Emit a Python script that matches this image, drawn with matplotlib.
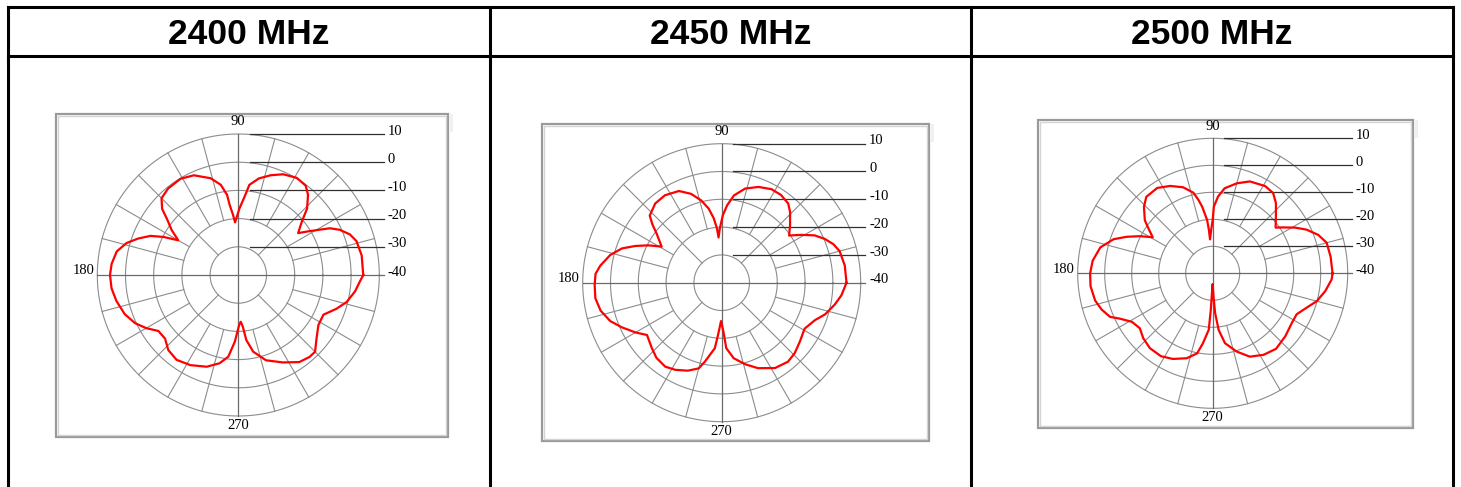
import numpy as np
import matplotlib
matplotlib.use("Agg")
import matplotlib.pyplot as plt
from matplotlib.patches import Rectangle

# frequencies (column headers)
freqs = ["2400 MHz", "2450 MHz", "2500 MHz"]

# radiation pattern: angle (deg) / gain (dB)
ang_2400 = [0, 9, 16, 20, 24, 27, 29, 32, 35, 40, 44, 49, 53, 59, 66, 72, 78, 83, 85, 89,
            93.5, 95, 97, 98, 101, 106, 114, 121, 129, 135, 139, 142, 146, 150, 153, 156, 160, 164, 169, 175,
            180, 186, 192, 199, 205, 210, 215, 221, 227, 234, 242, 251, 258, 263, 267, 271, 273, 275, 277, 281,
            288, 297, 305, 311, 315, 321, 328, 335, 341, 346, 352, 357, 360]
gain_2400 = [4.3, 4.3, 3.6, 2.1, -0.6, -3.5, -6.8, -10.8, -14.1, -10.6, -6.1, -2.3, -0.3, 0.2, -0.9, -2.8, -5.0, -7.8, -11.5, -16.4,
             -21.3, -18.6, -15.0, -11.3, -7.4, -4.3, -1.3, -0.2, -0.5, -1.5, -4.2, -8.0, -11.5, -15.4, -10.3, -5.9, -2.2, 1.2, 3.9, 5.1,
             5.5, 5.2, 4.2, 2.6, 0.4, -2.3, -5.4, -5.6, -3.6, -2.8, -3.8, -5.6, -8.0, -10.8, -16.3, -22.3, -23.4, -21.6, -16.8, -12.3,
             -8.2, -5.2, -2.3, -1.5, -1.5, -4.3, -6.5, -6.7, -3.2, -0.4, 1.8, 3.2, 4.3]

ang_2450 = [0, 8, 15, 19, 23, 27, 31, 35, 40, 46, 50, 56, 62, 69, 76, 82, 86, 89, 92, 94,
            95, 97, 100, 104, 109, 115, 123, 130, 137, 140, 143, 149, 153, 157, 161, 166, 172, 176, 181, 187,
            193, 199, 204, 210, 215, 223, 229, 236, 242, 249, 255, 258, 264, 266, 269, 272, 274, 279, 286, 293,
            302, 310, 316, 323, 331, 338, 343, 349, 354, 360]
gain_2450 = [4.9, 4.7, 3.9, 2.5, 0.3, -2.5, -6.6, -10.4, -7.9, -4.6, -2.8, -1.9, -1.9, -3.1, -5.1, -8.3, -12.1, -15.7, -20.5, -23.7,
             -20.4, -16.7, -12.9, -9.5, -6.2, -3.6, -2.5, -2.8, -4.6, -7.5, -10.7, -14.8, -10.4, -6.2, -2.1, 1.3, 4.1, 5.5, 5.7, 5.8,
             4.7, 2.4, -0.6, -4.2, -7.2, -5.6, -4.2, -3.6, -4.5, -6.1, -8.1, -11.0, -16.3, -21.2, -26.2, -22.4, -16.4, -12.5, -9.5, -6.6,
             -3.8, -2.9, -3.5, -4.8, -5.9, -3.9, -1.1, 1.4, 3.3, 4.9]

ang_2500 = [0, 8, 15, 20, 25, 29, 33, 36, 42, 48, 53, 59, 68, 75, 82, 86, 89, 90, 92, 94.5,
            95, 96, 99, 101, 103.5, 109, 116, 123, 131, 136, 142, 145, 149, 153, 157, 161, 167, 174, 180, 186,
            193, 198, 203, 206, 211, 217, 223, 230, 238, 245, 253, 259, 262, 266, 267, 269.5, 272, 273.5, 276, 280,
            287, 294, 302, 310, 319, 328, 334, 340, 345, 351, 357, 360]
gain_2500 = [4.4, 4.1, 3.7, 1.6, -1.7, -5.1, -8.8, -11.2, -8.5, -5.0, -2.8, -2.3, -3.3, -5.5, -8.2, -11.5, -15.3, -20.2, -23.9, -27.4,
             -23.9, -20.1, -15.0, -12.3, -9.3, -6.3, -4.0, -2.3, -2.5, -4.6, -8.1, -10.9, -14.1, -9.7, -5.4, -1.2, 2.7, 4.7, 5.4, 5.5,
             4.7, 3.3, 1.3, -1.7, -5.1, -6.2, -4.8, -3.8, -3.8, -5.0, -7.1, -9.8, -13.8, -19.0, -26.4, -36.0, -31.3, -25.2, -18.9, -13.7,
             -9.7, -6.2, -4.4, -3.5, -4.4, -5.4, -5.4, -2.9, -0.1, 2.2, 4.1, 4.4]

angles = [ang_2400, ang_2450, ang_2500]
gains = [gain_2400, gain_2450, gain_2500]

ring_db = [-30, -20, -10, 0, 10]
label_db = [10, 0, -10, -20, -30, -40]
rmin, rmax = -40, 10

W, H = 1461, 487
fig = plt.figure(figsize=(W / 100, H / 100), dpi=100)
fig.patch.set_facecolor("white")

# background axes in pixel units for the table
bg = fig.add_axes([0, 0, 1, 1])
bg.set_xlim(0, W)
bg.set_ylim(H, 0)
bg.axis("off")

col_x = [7.5, 490, 971, 1452.5]
top_y, head_y = 7, 56
bg.plot([col_x[0], col_x[-1]], [top_y, top_y], color="black", lw=2.2, solid_capstyle="projecting")
bg.plot([col_x[0], col_x[-1]], [head_y, head_y], color="black", lw=2.2)
for x in col_x:
    bg.plot([x, x], [top_y, H + 5], color="black", lw=2.2)

for i, f in enumerate(freqs):
    bg.text((col_x[i] + col_x[i + 1]) / 2, 35, f, ha="center", va="center",
            fontsize=25.5, fontweight="bold", family="Liberation Sans")

# frames around the pattern pictures (x0, y0, x1, y1)
frames = [(56, 114, 448, 437), (542, 124, 929, 441), (1038, 120, 1413, 428)]
for x0, y0, x1, y1 in frames:
    bg.add_patch(Rectangle((x0, y0), x1 - x0, y1 - y0, fill=False, ec="#9a9a9a", lw=1.6))
    bg.add_patch(Rectangle((x0 + 2, y0 + 2), x1 - x0 - 4, y1 - y0 - 4, fill=False, ec="#d4d4d4", lw=1.0))
    bg.add_patch(Rectangle((x1 + 2, y0), 3, 18, fc="#f0f0f0", ec="none"))

# polar centers and outer radius in pixels
centers = [(238.3, 275.0, 141), (721.7, 282.7, 139), (1212.7, 273.3, 135)]

grid_c = "#8c8c8c"
axis_c = "#6a6a6a"
lab_font = ["Liberation Serif", "DejaVu Serif"]
th = np.linspace(0, 2 * np.pi, 361)

for k, (cx, cy, R) in enumerate(centers):
    ax = fig.add_axes([(cx - R) / W, (H - cy - R) / H, 2 * R / W, 2 * R / H], projection="polar")
    ax.set_ylim(rmin, rmax)
    ax.set_axis_off()
    ax.patch.set_alpha(0)

    for r in ring_db:
        ax.plot(th, np.full_like(th, r), color=grid_c, lw=0.8, clip_on=False)
    for a in range(0, 360, 15):
        if a % 90 == 0:
            continue
        r0 = -30 if a % 45 == 0 else -20
        ax.plot([np.radians(a)] * 2, [r0, rmax], color=grid_c, lw=0.8, clip_on=False)

    # main axes lines
    ax.plot([0.5, 0.5], [0, 1], transform=ax.transAxes, color=axis_c, lw=0.9, clip_on=False)
    ax.plot([0, 1.017], [0.5, 0.5], transform=ax.transAxes, color=axis_c, lw=0.9, clip_on=False)

    # dB scale lines and labels
    for d in label_db:
        yy = 0.5 + 0.5 * (d - rmin) / (rmax - rmin)
        if d != -40:
            ax.plot([0.54, 1.017], [yy, yy], transform=ax.transAxes, color="#303030", lw=0.9, clip_on=False)
        ax.text(1.03, yy + 0.01, str(d), transform=ax.transAxes, ha="left", va="center",
                fontsize=10.5, family=lab_font)

    ax.text(0.5, 1.045, "90", transform=ax.transAxes, ha="center", va="center", fontsize=10.5, family=lab_font)
    ax.text(-0.01, 0.515, "180", transform=ax.transAxes, ha="right", va="center", fontsize=10.5, family=lab_font)
    ax.text(0.5, -0.035, "270", transform=ax.transAxes, ha="center", va="center", fontsize=10.5, family=lab_font)

    ax.plot(np.radians(angles[k]), gains[k], color="#ff0000", lw=1.6, clip_on=False)

fig.savefig("out.png", dpi=100, facecolor="white")
